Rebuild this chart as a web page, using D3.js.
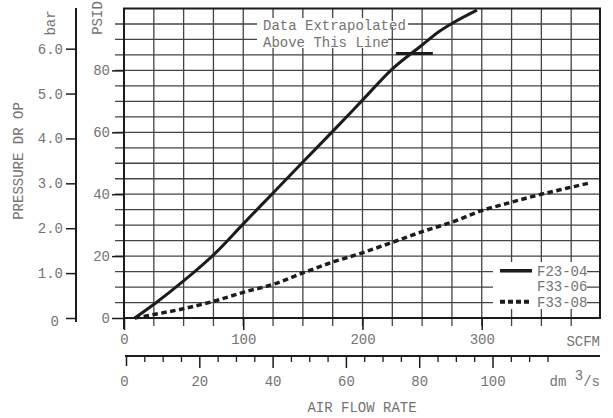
<!DOCTYPE html>
<html><head><meta charset="utf-8">
<script src="https://cdn.jsdelivr.net/npm/d3@7"></script>
<style>
html,body{margin:0;padding:0;background:#fff;}
svg{display:block;}
text{font-family:"Courier New","Nimbus Mono PS","Nimbus Mono L","FreeMono","Liberation Mono",monospace;font-size:14px;fill:#737373;}
</style></head><body>
<svg id="chart" width="613" height="418"></svg>
<script>
// ---- data ----
const scfmTicks = [0, 100, 200, 300];
const scfmGrid = [25, 50, 75, 100, 125, 150, 175, 200, 225, 250, 275, 300, 325, 350, 375];
const psidTicks = [0, 20, 40, 60, 80];
const psidGrid = [5, 10, 15, 20, 25, 30, 35, 40, 45, 50, 55, 60, 65, 70, 75, 80, 85, 90, 95];
const barTicks = [0, 1, 2, 3, 4, 5, 6];
const dmMajorTicks = [0, 20, 40, 60, 80, 100];
const dmMinorTicks = [5, 10, 15, 25, 30, 35, 45, 50, 55, 65, 70, 75, 85, 90, 95, 105, 110, 115];
const seriesNames = ["F23-04", "F33-06", "F33-08"];
const f2304Flow = [9, 26, 51, 77, 100, 126, 149, 176, 200, 224, 250, 264, 276, 296];
const f2304Psid = [0, 4.7, 12.3, 21.1, 30.4, 40.8, 50, 60.7, 70.4, 80.1, 88.2, 92.5, 95.4, 99.5];
const f3308Flow = [9, 26, 51, 77, 100, 126, 149, 176, 197, 224, 250, 276, 300, 322, 347, 371, 389];
const f3308Psid = [0, 1.2, 3.1, 5.6, 8.3, 11.0, 14.4, 18.2, 20.7, 24.3, 27.9, 31.1, 34.7, 37.1, 39.7, 41.9, 43.5];
const extrapFlow = [228, 259];
const extrapPsid = 85.5;
const PSI_PER_BAR = 14.5038;

// ---- layout ----
const L = 124, R = 600, T = 8.5, B = 318;
const svg = d3.select("#chart");
const x = d3.scaleLinear().domain([0, 400]).range([L, 601]);
const y = d3.scaleLinear().domain([0, 100]).range([B, T]);
const yBar = d3.scaleLinear().domain([0, 100 / PSI_PER_BAR]).range([B, T]);
const xDm = d3.scaleLinear().domain([0, 100]).range([126, 492.5]);
const gridColor = "#444";
const ink = "#1c1c1c";

// horizontal grid
svg.append("g").selectAll("line").data(psidGrid).join("line")
  .attr("x1", 115).attr("x2", R).attr("y1", d => y(d)).attr("y2", d => y(d))
  .attr("stroke", gridColor).attr("stroke-width", 1.3);
// vertical grid
svg.append("g").selectAll("line").data(scfmGrid).join("line")
  .attr("x1", d => x(d)).attr("x2", d => x(d)).attr("y1", T).attr("y2", 326)
  .attr("stroke", gridColor).attr("stroke-width", 1.3);

// knockouts behind annotation and legend
svg.append("rect").attr("x", 257).attr("y", 18).attr("width", 131).attr("height", 30).attr("fill", "#fff");
svg.append("rect").attr("x", 388).attr("y", 21).attr("width", 20).attr("height", 6).attr("fill", "#fff");
svg.append("rect").attr("x", 493).attr("y", 262).attr("width", 94).attr("height", 47).attr("fill", "#fff");

// frame
svg.append("rect").attr("x", L).attr("y", T).attr("width", R - L).attr("height", B - T)
  .attr("fill", "none").attr("stroke", ink).attr("stroke-width", 2);
svg.append("line").attr("x1", L).attr("x2", L).attr("y1", B).attr("y2", 329)
  .attr("stroke", ink).attr("stroke-width", 2);

// PSID axis (left of frame)
const gPsi = svg.append("g").attr("transform", `translate(${L},0)`).style("color", ink)
  .call(d3.axisLeft(y).tickValues(psidTicks).tickSize(12).tickPadding(2).tickFormat(d3.format("d")));
gPsi.select(".domain").remove();
gPsi.selectAll(".tick line").attr("stroke-width", 1.5);

// bar axis
const gBar = svg.append("g").attr("transform", "translate(76,0)").style("color", ink)
  .call(d3.axisLeft(yBar).tickValues(barTicks).tickSize(10).tickPadding(3)
    .tickFormat(d => d === 0 ? "0" : d.toFixed(1)));
gBar.select(".domain").remove();
gBar.selectAll(".tick line").attr("stroke-width", 1.5);
gBar.selectAll(".tick text").filter(d => d === 0).attr("dx", -4).attr("dy", "0.55em");
svg.append("line").attr("x1", 76).attr("x2", 76).attr("y1", 8).attr("y2", 322)
  .attr("stroke", ink).attr("stroke-width", 2);

// SCFM axis
const gScfm = svg.append("g").attr("transform", `translate(0,${B})`).style("color", ink)
  .call(d3.axisBottom(x).tickValues(scfmTicks).tickSize(12).tickPadding(4).tickFormat(d3.format("d")));
gScfm.select(".domain").remove();
gScfm.selectAll(".tick line").attr("stroke-width", 1.5);
svg.append("text").attr("x", R).attr("y", 346).attr("text-anchor", "end").text("SCFM");

// dm3/s axis
const gDmMinor = svg.append("g").attr("transform", "translate(0,356)").style("color", ink)
  .call(d3.axisBottom(xDm).tickValues(dmMinorTicks).tickSize(6).tickFormat(""));
gDmMinor.select(".domain").remove();
gDmMinor.selectAll(".tick line").attr("stroke-width", 1.3);
const gDm = svg.append("g").attr("transform", "translate(0,356)").style("color", ink)
  .call(d3.axisBottom(xDm).tickValues(dmMajorTicks).tickSize(12).tickPadding(8).tickFormat(d3.format("d")));
gDm.select(".domain").remove();
gDm.selectAll(".tick line").attr("stroke-width", 1.5);
gDm.selectAll(".tick line").filter(d => d === 0).attr("y2", 10);
gDm.selectAll(".tick text").filter(d => d === 0).attr("dx", -2);
svg.append("line").attr("x1", 125).attr("x2", R).attr("y1", 356).attr("y2", 356)
  .attr("stroke", ink).attr("stroke-width", 2);
const dmLab = svg.append("text").attr("x", R).attr("y", 386).attr("text-anchor", "end");
dmLab.append("tspan").text("dm ");
dmLab.append("tspan").attr("dy", -6).text("3");
dmLab.append("tspan").attr("dy", 6).text("/s");

// axis titles
svg.append("text").attr("x", 362).attr("y", 412).attr("text-anchor", "middle").text("AIR FLOW RATE");
svg.append("text").attr("transform", "translate(23,161) rotate(-90)").attr("text-anchor", "middle").text("PRESSURE DR OP");
svg.append("text").attr("transform", "translate(55,23) rotate(-90)").attr("text-anchor", "middle").text("bar");
svg.append("text").attr("transform", "translate(102,18) rotate(-90)").attr("text-anchor", "middle").text("PSID");

// annotation
svg.append("text").attr("x", 263).attr("y", 30).text("Data Extrapolated");
svg.append("text").attr("x", 263).attr("y", 46.5).text("Above This Line");

// curves
const line = d3.line().x(d => x(d[0])).y(d => y(d[1])).curve(d3.curveMonotoneX);
svg.append("path").datum(d3.zip(f3308Flow, f3308Psid)).attr("d", line)
  .attr("fill", "none").attr("stroke", ink).attr("stroke-width", 3.5).attr("stroke-dasharray", "5.5,3.5");
svg.append("path").datum(d3.zip(f2304Flow, f2304Psid)).attr("d", line)
  .attr("fill", "none").attr("stroke", ink).attr("stroke-width", 3);
svg.append("line").attr("x1", x(extrapFlow[0])).attr("x2", x(extrapFlow[1]))
  .attr("y1", y(extrapPsid)).attr("y2", y(extrapPsid))
  .attr("stroke", ink).attr("stroke-width", 3);

// legend
const legY = [15, 10, 5];
const legStyle = [{dash: null}, null, {dash: "5,3"}];
seriesNames.forEach((name, i) => {
  const yy = y(legY[i]) - 0.8;
  if (legStyle[i]) {
    const l = svg.append("line").attr("x1", 500).attr("x2", 532).attr("y1", yy).attr("y2", yy)
      .attr("stroke", ink).attr("stroke-width", legStyle[i].dash ? 4 : 3.5);
    if (legStyle[i].dash) l.attr("stroke-dasharray", legStyle[i].dash);
  }
  svg.append("text").attr("x", 537).attr("y", yy).attr("dy", "0.35em").text(name);
});
</script>
</body></html>
